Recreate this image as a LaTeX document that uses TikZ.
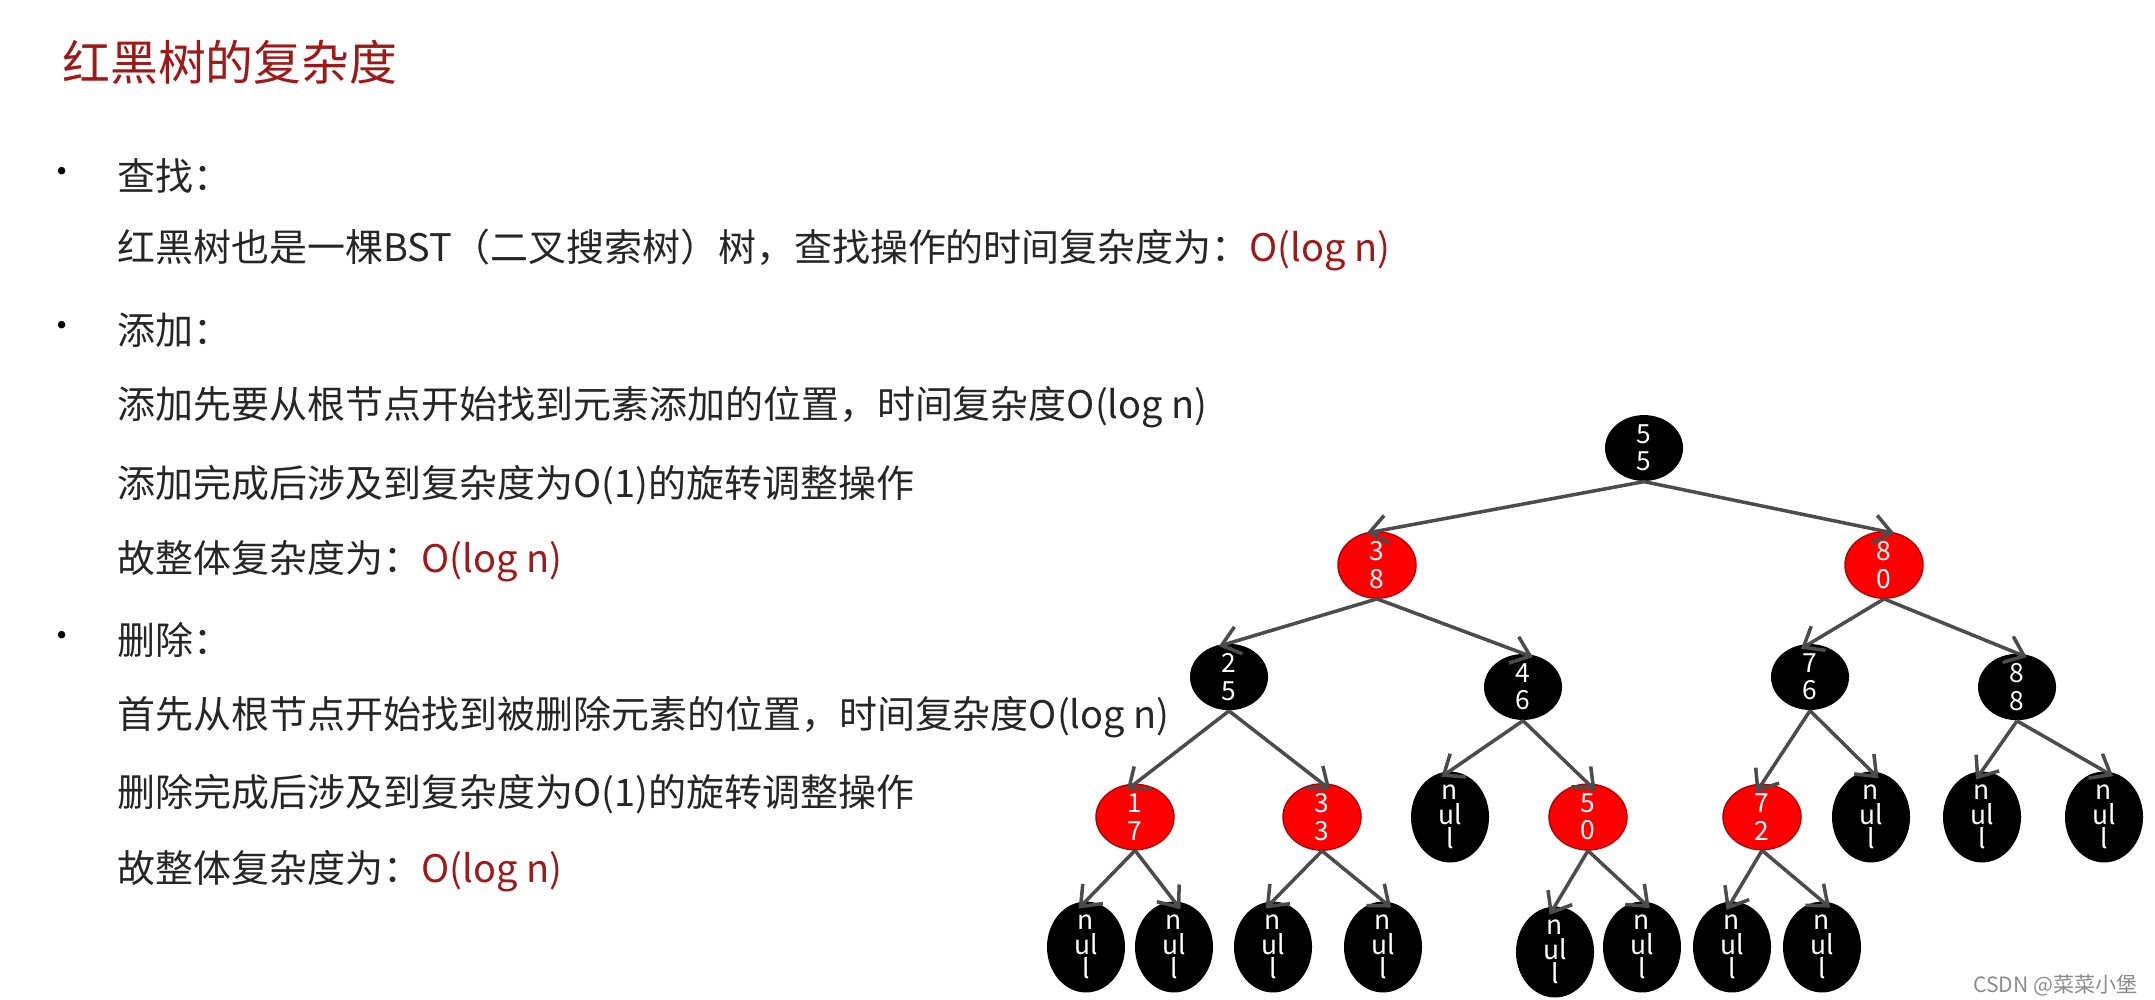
\documentclass[tikz,border=0pt]{standalone}
\usepackage{fontspec}
\setmainfont{Noto Sans CJK SC}
\usetikzlibrary{arrows.meta,shapes.geometric}
\definecolor{dred}{RGB}{160,25,25}
\begin{document}
\begin{tikzpicture}[x=0.01cm,y=-0.01cm,
  rb/.style={ellipse,minimum width=0.78cm,minimum height=0.65cm,inner sep=0pt,text=white,font=\fontsize{7.5}{7.8}\selectfont,align=center},
  bn/.style={rb,fill=black},
  rn/.style={rb,fill=red,draw=red!70!black,thin},
  nl/.style={bn,font=\fontsize{7.5}{7}\selectfont},
  ed/.style={draw=black!70,line width=1pt,-{Straight Barb[length=5pt,width=8pt]},shorten >=-3pt},
  tx/.style={anchor=west,font=\fontsize{10.8}{12}\selectfont,text=black!85},
  bl/.style={anchor=center,font=\fontsize{10}{12}\selectfont}]
\useasboundingbox (0,0) rectangle (2155,999);
\node[anchor=west,text=dred,font=\fontsize{13.6}{15}\selectfont] (title) at (50,62) {红黑树的复杂度};
\node[bl] (b1) at (62,176) {•}; \node[tx] (t1) at (105,176) {查找：};
\node[tx] (t2) at (105,250) {红黑树也是一棵BST（二叉搜索树）树，查找操作的时间复杂度为：\textcolor{dred}{O(log n)}};
\node[bl] (b2) at (62,330) {•}; \node[tx] (t3) at (105,330) {添加：};
\node[tx] (t4) at (105,407) {添加先要从根节点开始找到元素添加的位置，时间复杂度O(log n)};
\node[tx] (t5) at (105,485) {添加完成后涉及到复杂度为O(1)的旋转调整操作};
\node[tx] (t6) at (105,561) {故整体复杂度为：\textcolor{dred}{O(log n)}};
\node[bl] (b3) at (62,640) {•}; \node[tx] (t7) at (105,640) {删除：};
\node[tx] (t8) at (105,717) {首先从根节点开始找到被删除元素的位置，时间复杂度O(log n)};
\node[tx] (t9) at (105,794) {删除完成后涉及到复杂度为O(1)的旋转调整操作};
\node[tx] (t10) at (105,871) {故整体复杂度为：\textcolor{dred}{O(log n)}};
% tree
\node[bn] (n55) at (1644,448) {5\\5};
\node[rn] (n38) at (1377,565) {3\\8};
\node[rn] (n80) at (1884,565) {8\\0};
\node[bn] (n25) at (1229,677) {2\\5};
\node[bn] (n46) at (1523,687) {4\\6};
\node[bn] (n76) at (1810,677) {7\\6};
\node[bn] (n88) at (2017,687) {8\\8};
\node[rn] (n17) at (1135,817) {1\\7};
\node[rn] (n33) at (1322,817) {3\\3};
\node[nl] (x1) at (1450,817) {n\\ul\\l};
\node[rn] (n50) at (1588,817) {5\\0};
\node[rn] (n72) at (1762,817) {7\\2};
\node[nl] (x2) at (1871,817) {n\\ul\\l};
\node[nl] (x3) at (1982,817) {n\\ul\\l};
\node[nl] (x4) at (2104,817) {n\\ul\\l};
\node[nl] (y1) at (1086,947) {n\\ul\\l};
\node[nl] (y2) at (1174,947) {n\\ul\\l};
\node[nl] (y3) at (1273,947) {n\\ul\\l};
\node[nl] (y4) at (1383,947) {n\\ul\\l};
\node[nl] (y5) at (1555,952) {n\\ul\\l};
\node[nl] (y6) at (1642,947) {n\\ul\\l};
\node[nl] (y7) at (1732,947) {n\\ul\\l};
\node[nl] (y8) at (1822,947) {n\\ul\\l};
\foreach \a/\b in {n55/n38,n55/n80,n38/n25,n38/n46,n80/n76,n80/n88,n25/n17,n25/n33,n46/x1,n46/n50,n76/n72,n76/x2,n88/x3,n88/x4,n17/y1,n17/y2,n33/y3,n33/y4,n50/y5,n50/y6,n72/y7,n72/y8}
  \draw[ed] (\a.south) -- (\b.north);
\node[anchor=east,text=black!45,font=\fontsize{6}{7}\selectfont] (wm) at (2150,985) {CSDN @菜菜小堡};
\end{tikzpicture}
\end{document}
